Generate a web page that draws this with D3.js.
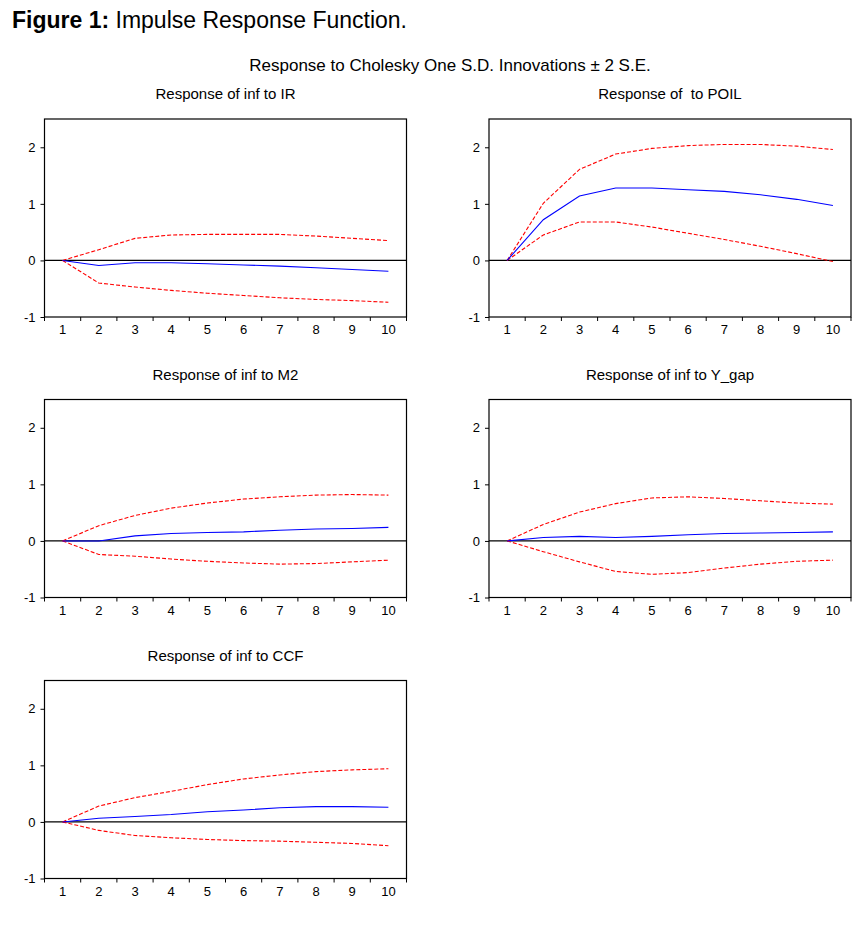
<!DOCTYPE html>
<html>
<head>
<meta charset="utf-8">
<script src="https://cdn.jsdelivr.net/npm/d3@7"></script>
<style>
  html, body { margin: 0; padding: 0; background: #fff; }
  svg { display: block; font-family: Arial, "Liberation Sans", sans-serif; }
  text { white-space: pre; }
</style>
</head>
<body>
<svg id="chart" width="865" height="933"></svg>
<script>
// ---- data ----
const periods = [1, 2, 3, 4, 5, 6, 7, 8, 9, 10];
const yTicks = [-1, 0, 1, 2];
const panelTitles = [
  "Response of inf to IR",
  "Response of  to POIL",
  "Response of inf to M2",
  "Response of inf to Y_gap",
  "Response of inf to CCF"
];
const respIR    = [0, -0.09, -0.04, -0.04, -0.06, -0.08, -0.10, -0.13, -0.16, -0.19];
const upperIR   = [0, 0.19, 0.39, 0.45, 0.46, 0.46, 0.46, 0.43, 0.39, 0.35];
const lowerIR   = [0, -0.40, -0.47, -0.53, -0.58, -0.62, -0.66, -0.69, -0.71, -0.74];

const respPOIL  = [0, 0.72, 1.14, 1.28, 1.28, 1.25, 1.22, 1.16, 1.08, 0.97];
const upperPOIL = [0, 1.01, 1.61, 1.88, 1.98, 2.03, 2.05, 2.05, 2.02, 1.96];
const lowerPOIL = [0, 0.45, 0.68, 0.68, 0.59, 0.48, 0.37, 0.25, 0.12, -0.02];

const respM2    = [0, 0.00, 0.09, 0.13, 0.15, 0.16, 0.19, 0.21, 0.22, 0.24];
const upperM2   = [0, 0.27, 0.45, 0.58, 0.67, 0.74, 0.78, 0.81, 0.82, 0.81];
const lowerM2   = [0, -0.24, -0.27, -0.32, -0.36, -0.39, -0.41, -0.40, -0.37, -0.34];

const respYgap  = [0, 0.06, 0.08, 0.06, 0.08, 0.11, 0.13, 0.14, 0.15, 0.16];
const upperYgap = [0, 0.29, 0.51, 0.66, 0.76, 0.78, 0.75, 0.71, 0.67, 0.65];
const lowerYgap = [0, -0.19, -0.37, -0.54, -0.59, -0.56, -0.48, -0.41, -0.36, -0.34];

const respCCF   = [0, 0.065, 0.095, 0.13, 0.18, 0.21, 0.25, 0.27, 0.27, 0.26];
const upperCCF  = [0, 0.28, 0.43, 0.54, 0.66, 0.76, 0.83, 0.89, 0.92, 0.94];
const lowerCCF  = [0, -0.15, -0.24, -0.28, -0.31, -0.33, -0.34, -0.36, -0.38, -0.42];

const panels = [
  { title: panelTitles[0], resp: respIR,   upper: upperIR,   lower: lowerIR },
  { title: panelTitles[1], resp: respPOIL, upper: upperPOIL, lower: lowerPOIL },
  { title: panelTitles[2], resp: respM2,   upper: upperM2,   lower: lowerM2 },
  { title: panelTitles[3], resp: respYgap, upper: upperYgap, lower: lowerYgap },
  { title: panelTitles[4], resp: respCCF,  upper: upperCCF,  lower: lowerCCF }
];

// ---- layout ----
const svg = d3.select("#chart");
const colX = [44.5, 489];
const rowY = [119, 399.5, 680.5];
const pw = 362, ph = 198;

// figure title
const ft = svg.append("text").attr("x", 12).attr("y", 28)
  .attr("font-size", 23).attr("fill", "#000");
ft.append("tspan").attr("font-weight", "bold").text("Figure 1:");
ft.append("tspan").text(" Impulse Response Function.");

svg.append("text").attr("x", 450).attr("y", 71)
  .attr("text-anchor", "middle").attr("font-size", 17).attr("fill", "#000")
  .text("Response to Cholesky One S.D. Innovations \u00B1 2 S.E.");

panels.forEach((p, i) => {
  const ox = colX[i % 2], oy = rowY[Math.floor(i / 2)];
  const g = svg.append("g").attr("transform", `translate(${ox},${oy})`);

  const xBand = d3.scaleBand().domain(periods).range([0, pw]).padding(0);
  const xc = d => xBand(d) + xBand.bandwidth() / 2;
  const y = d3.scaleLinear().domain([-1, 2.5]).range([ph, 0]);

  // title
  g.append("text").attr("x", pw / 2).attr("y", -20)
    .attr("text-anchor", "middle").attr("font-size", 15).attr("fill", "#000")
    .text(p.title);

  // y axis
  const ya = g.append("g").call(d3.axisLeft(y).tickValues(yTicks).tickSize(4).tickPadding(5).tickFormat(d => String(d)));
  ya.attr("font-size", null).attr("font-family", null);
  ya.select(".domain").remove();
  ya.selectAll("text").attr("font-size", 13).attr("fill", "#000");
  ya.selectAll("line").attr("stroke", "#000");

  // x axis: ticks at band boundaries, labels at centres
  const bounds = d3.range(0, periods.length + 1).map(k => k * xBand.bandwidth());
  const xg = g.append("g").attr("transform", `translate(0,${ph})`);
  xg.selectAll("line").data(bounds).join("line")
    .attr("x1", d => d).attr("x2", d => d).attr("y1", 0).attr("y2", 4)
    .attr("stroke", "#000");
  xg.selectAll("text").data(periods).join("text")
    .attr("x", d => xc(d)).attr("y", 17)
    .attr("text-anchor", "middle").attr("font-size", 13).attr("fill", "#000")
    .text(d => d);

  // zero line
  g.append("line").attr("x1", 0).attr("x2", pw).attr("y1", y(0)).attr("y2", y(0))
    .attr("stroke", "#000").attr("stroke-width", 1.2);

  const line = d3.line().x((d, k) => xc(periods[k])).y(d => y(d));

  g.append("path").datum(p.upper).attr("d", line).attr("fill", "none")
    .attr("stroke", "#ff0000").attr("stroke-width", 1.1).attr("stroke-dasharray", "4,2");
  g.append("path").datum(p.lower).attr("d", line).attr("fill", "none")
    .attr("stroke", "#ff0000").attr("stroke-width", 1.1).attr("stroke-dasharray", "4,2");
  g.append("path").datum(p.resp).attr("d", line).attr("fill", "none")
    .attr("stroke", "#0000ff").attr("stroke-width", 1.1);

  // frame
  g.append("rect").attr("x", 0).attr("y", 0).attr("width", pw).attr("height", ph)
    .attr("fill", "none").attr("stroke", "#000").attr("stroke-width", 1.2);
});
</script>
</body>
</html>
